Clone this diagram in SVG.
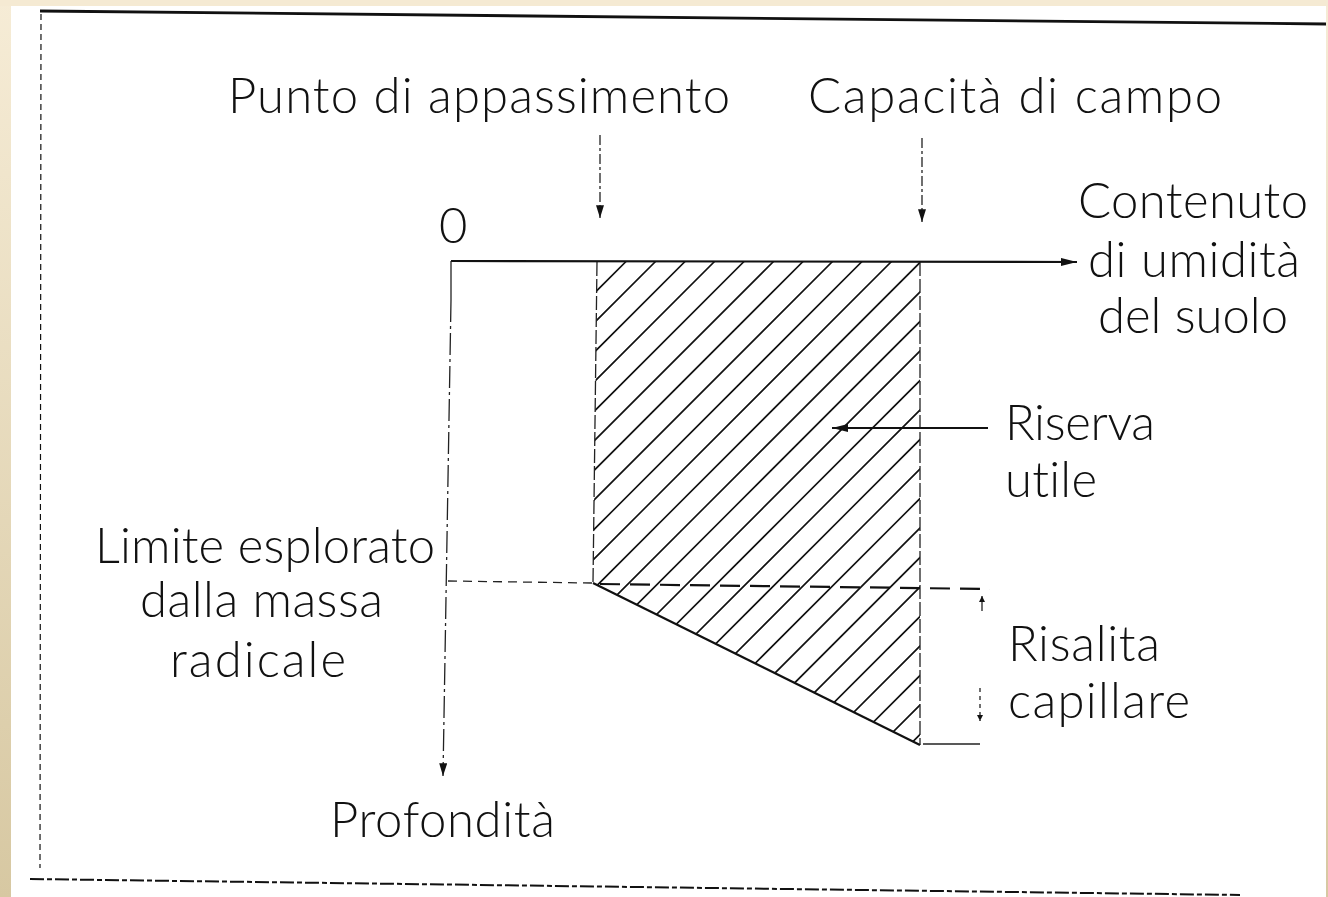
<svg xmlns="http://www.w3.org/2000/svg" width="1328" height="897" viewBox="0 0 1328 897">
<style>
text{font-family:Lato,"Open Sans","DejaVu Sans",sans-serif;font-weight:300;font-size:49px;fill:#111;font-variant-ligatures:none}
.ax{stroke:#111;stroke-width:2.2;fill:none}
.thin{stroke:#222;stroke-width:1.3;fill:none}
.hatch{stroke:#111;stroke-width:1.6;fill:none}
.border{stroke:#111;fill:none}
</style>
<defs>
<linearGradient id="bg" x1="0" y1="0" x2="0" y2="1">
<stop offset="0" stop-color="#f6ecd6"/>
<stop offset="1" stop-color="#d7c8a2"/>
</linearGradient>
<marker id="ah" viewBox="0 0 10 10" refX="10" refY="5" markerWidth="6" markerHeight="6" markerUnits="userSpaceOnUse" orient="auto">
<path d="M0,0 L10,5 L0,10 Z" fill="#111"/>
</marker>
<marker id="ahBig" viewBox="0 0 20 10" refX="20" refY="5" markerWidth="20" markerHeight="8" markerUnits="userSpaceOnUse" orient="auto">
<path d="M0,0 L20,5 L0,10 Z" fill="#111"/>
</marker>
<marker id="ahMid" viewBox="0 0 16 10" refX="16" refY="5" markerWidth="16" markerHeight="8" markerUnits="userSpaceOnUse" orient="auto">
<path d="M0,0 L16,5 L0,10 Z" fill="#111"/>
</marker>
<clipPath id="clipR">
<polygon points="597,261 920,261 920,745 593,583"/>
</clipPath>
</defs>
<rect width="1328" height="897" fill="url(#bg)"/>
<rect x="0" y="0" width="1328" height="6" fill="#f5ead3"/>
<rect x="11" y="6" width="1315" height="891" fill="#ffffff"/>
<g id="frame">
<path class="border" stroke-width="2.8" d="M40,11 L1326,24"/>
<path class="border" stroke-width="1.2" stroke-dasharray="6,4" d="M41,14 L40,868"/>
<path class="border" stroke-width="2" stroke-dasharray="14,3,5,3" d="M30,879 L1240,895"/>
</g>
<g id="reserve-area">
<g clip-path="url(#clipR)" class="hatch">
<path d="M590,268 L930,-72 M590,297.5 L930,-42.5 M590,327 L930,-13 M590,356.5 L930,16.5 M590,386 L930,46 M590,415.5 L930,75.5 M590,445 L930,105 M590,474.5 L930,134.5 M590,504 L930,164 M590,533.5 L930,193.5 M590,563 L930,223 M590,592.5 L930,252.5 M590,622 L930,282 M590,651.5 L930,311.5 M590,681 L930,341 M590,710.5 L930,370.5 M590,740 L930,400 M590,769.5 L930,429.5 M590,799 L930,459 M590,828.5 L930,488.5 M590,858 L930,518 M590,887.5 L930,547.5 M590,917 L930,577 M590,946.5 L930,606.5 M590,976 L930,636 M590,1005.5 L930,665.5 M590,1035 L930,695 M590,1064.5 L930,724.5 M590,1094 L930,754"/>
</g>
<path class="thin" stroke-dasharray="14,3" d="M597,262 L593,583"/>
<path class="thin" stroke-dasharray="14,3" d="M920,262 L920,745"/>
<path class="ax" stroke-width="1.8" d="M593,583 L920,745"/>
</g>
<g id="connectors">
<path class="ax" d="M451,261 L1077,262" marker-end="url(#ahBig)"/>
<path class="thin" d="M451,261 L451,300"/>
<path class="thin" stroke-dasharray="22,4,3,4" d="M451,300 L443,776" marker-end="url(#ahMid)"/>
<path class="thin" stroke-dasharray="9,6" stroke-width="1.5" d="M448,581 L592,583"/>
<path class="ax" stroke-width="1.8" stroke-dasharray="20,10" d="M600,584 L990,589"/>
<path class="thin" stroke-dasharray="10,3,3,3" d="M600,135 L600,218" marker-end="url(#ahMid)"/>
<path class="thin" stroke-dasharray="10,3,3,3" d="M922,138 L922,222" marker-end="url(#ahMid)"/>
<path class="ax" d="M988,428 L832,428" marker-end="url(#ahBig)"/>
<path class="thin" d="M923,744 L980,744"/>
<path class="thin" d="M982,611 L982,596" marker-end="url(#ah)"/>
<path class="thin" stroke-dasharray="4,4" d="M980,688 L980,721" marker-end="url(#ah)"/>
</g>
<g id="labels">
<text id="t-punto" x="228" y="113" textLength="502">Punto di appassimento</text>
<text id="t-capacita" x="808" y="113" textLength="414">Capacità di campo</text>
<text id="t-zero" x="439" y="243">0</text>
<text id="t-contenuto" x="1078" y="218" textLength="230">Contenuto</text>
<text id="t-umidita" x="1088" y="277" textLength="212">di umidità</text>
<text id="t-suolo" x="1098" y="333" textLength="190">del suolo</text>
<text id="t-riserva" x="1005" y="440" textLength="150">Riserva</text>
<text id="t-utile" x="1005" y="497" textLength="92">utile</text>
<text id="t-limite" x="95" y="563" textLength="340">Limite esplorato</text>
<text id="t-dalla" x="140" y="617" textLength="243">dalla massa</text>
<text id="t-radicale" x="170" y="677" textLength="176">radicale</text>
<text id="t-risalita" x="1008" y="661" textLength="152">Risalita</text>
<text id="t-capillare" x="1008" y="718" textLength="182">capillare</text>
<text id="t-profondita" x="330" y="837" textLength="225">Profondità</text>
</g>
</svg>
